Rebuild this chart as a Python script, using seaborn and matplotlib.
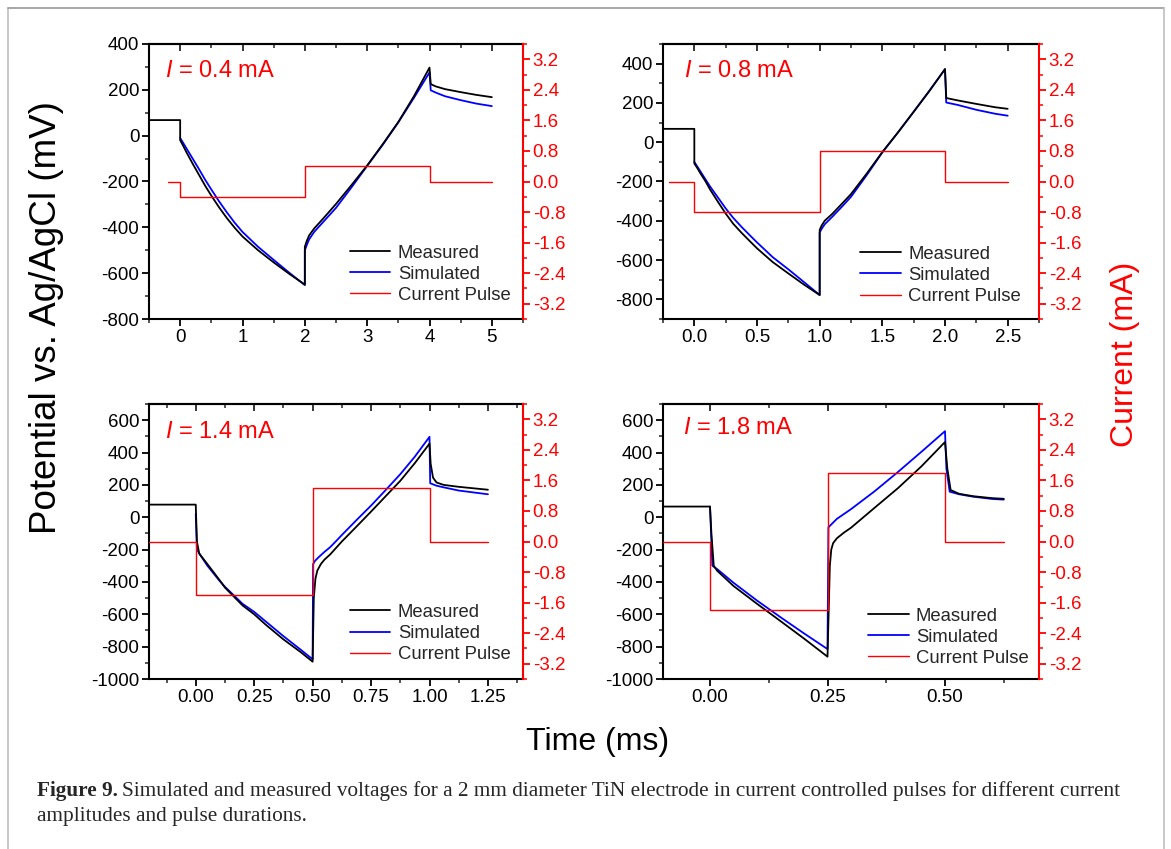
import numpy as np
import matplotlib
matplotlib.use("Agg")
import matplotlib.pyplot as plt
import matplotlib.ticker as mticker
from matplotlib.lines import Line2D
import seaborn as sns

sns.set_theme(style="ticks")
plt.rcParams['font.family'] = ['Liberation Sans', 'DejaVu Sans']
plt.rcParams['axes.unicode_minus'] = False
plt.rcParams['mathtext.fontset'] = 'custom'
plt.rcParams['mathtext.it'] = 'Liberation Sans:italic'
plt.rcParams['mathtext.rm'] = 'Liberation Sans'

# ---- data (time in ms, potential in mV, current in mA) ----
# I = 0.4 mA
t_meas_1 = [-0.5, 0.0, 0.0, 0.05, 0.1, 0.2, 0.3, 0.4, 0.5, 0.625, 0.75, 0.875, 1.0, 1.25, 1.5, 1.75,
            2.0, 2.0, 2.03, 2.07, 2.15, 2.3, 2.5, 2.75, 3.0, 3.25, 3.5, 3.75, 4.0, 4.02, 4.1, 4.25,
            4.5, 4.75, 5.0]
v_meas_1 = [68, 68, -20, -45, -72, -122, -170, -218, -262, -313, -360, -402, -440, -500, -553, -603,
            -650, -485, -460, -435, -405, -360, -298, -215, -130, -37, 60, 172, 297, 225, 215, 203,
            190, 178, 168]
t_sim_1 = [0.0, 0.1, 0.2, 0.3, 0.4, 0.5, 0.625, 0.75, 0.875, 1.0, 1.25, 1.5, 1.75, 2.0, 2.0, 2.03,
           2.07, 2.15, 2.3, 2.5, 2.75, 3.0, 3.25, 3.5, 3.75, 4.0, 4.02, 4.1, 4.25, 4.5, 4.75, 5.0]
v_sim_1 = [-10, -55, -100, -145, -192, -235, -287, -335, -380, -420, -485, -542, -598, -652, -500, -478,
           -452, -420, -375, -315, -225, -132, -40, 58, 165, 276, 198, 188, 172, 155, 140, 129]
t_pulse_1 = [-0.2, 0, 0, 2, 2, 4, 4, 5]
i_pulse_1 = [0, 0, -0.4, -0.4, 0.4, 0.4, 0, 0]

# I = 0.8 mA
t_meas_2 = [-0.25, 0.0, 0.0, 0.025, 0.05, 0.09, 0.125, 0.19, 0.25, 0.31, 0.375, 0.44, 0.5, 0.625, 0.75,
            0.875, 1.0, 1.0, 1.015, 1.04, 1.1, 1.175, 1.25, 1.375, 1.5, 1.625, 1.75, 1.875, 2.0,
            2.01, 2.1, 2.25, 2.4, 2.5]
v_meas_2 = [68, 68, -108, -133, -160, -200, -240, -305, -363, -415, -460, -502, -540, -610, -668,
            -725, -778, -447, -425, -400, -365, -315, -264, -160, -50, 50, 155, 260, 372,
            225, 213, 195, 178, 170]
t_sim_2 = [0.0, 0.05, 0.125, 0.19, 0.25, 0.31, 0.375, 0.44, 0.5, 0.625, 0.75, 0.875, 1.0, 1.0, 1.015,
           1.04, 1.1, 1.175, 1.25, 1.375, 1.5, 1.625, 1.75, 1.875, 2.0, 2.01, 2.1, 2.25, 2.4, 2.5]
v_sim_2 = [-100, -150, -225, -283, -337, -385, -430, -472, -510, -585, -647, -712, -778, -460, -442,
           -418, -380, -330, -278, -168, -52, 50, 155, 262, 372, 202, 190, 165, 145, 135]
t_pulse_2 = [-0.2, 0, 0, 1, 1, 2, 2, 2.5]
i_pulse_2 = [0, 0, -0.8, -0.8, 0.8, 0.8, 0, 0]

# I = 1.4 mA
t_meas_3 = [-0.2, 0.0, 0.005, 0.015, 0.05, 0.1, 0.125, 0.2, 0.25, 0.3, 0.375, 0.45, 0.5, 0.505, 0.512,
            0.52, 0.535, 0.55, 0.575, 0.6, 0.625, 0.6875, 0.75, 0.8125, 0.875, 0.9375, 1.0, 1.005,
            1.015, 1.03, 1.06, 1.125, 1.25]
v_meas_3 = [78, 78, -150, -225, -290, -385, -435, -545, -600, -665, -755, -835, -893, -500, -380,
            -330, -290, -263, -230, -190, -150, -58, 35, 130, 225, 335, 455, 330,
            245, 215, 200, 188, 170]
t_sim_3 = [0.0, 0.005, 0.02, 0.05, 0.1, 0.125, 0.2, 0.25, 0.3, 0.375, 0.45, 0.5, 0.502, 0.51, 0.525,
           0.55, 0.575, 0.6, 0.625, 0.6875, 0.75, 0.8125, 0.875, 0.9375, 1.0, 1.003, 1.03, 1.06,
           1.125, 1.25]
v_sim_3 = [20, -200, -235, -300, -390, -430, -535, -585, -645, -735, -820, -878, -290, -270, -248,
           -215, -185, -148, -110, -18, 72, 168, 266, 375, 497, 210, 195, 185,
           165, 142]
t_pulse_3 = [-0.2, 0, 0, 0.5, 0.5, 1.0, 1.0, 1.25]
i_pulse_3 = [0, 0, -1.4, -1.4, 1.4, 1.4, 0, 0]

# I = 1.8 mA
t_meas_4 = [-0.1, 0.0, 0.003, 0.008, 0.015, 0.05, 0.1, 0.15, 0.2, 0.25, 0.255, 0.258, 0.262, 0.27,
            0.285, 0.3, 0.35, 0.4, 0.45, 0.5, 0.505, 0.512, 0.53, 0.56, 0.6, 0.625]
v_meas_4 = [66, 66, -100, -300, -330, -425, -535, -642, -750, -862, -300, -200, -160, -130,
            -95, -65, 58, 180, 315, 465, 300, 168, 145, 130, 118, 114]
t_sim_4 = [0.0, 0.005, 0.015, 0.05, 0.1, 0.15, 0.2, 0.25, 0.252, 0.27, 0.3, 0.35, 0.4, 0.45, 0.5,
           0.503, 0.51, 0.53, 0.56, 0.6, 0.625]
v_sim_4 = [66, -300, -320, -405, -515, -618, -718, -815, -62, -10, 50, 160, 280, 405, 532,
           300, 158, 142, 127, 113, 109]
t_pulse_4 = [-0.1, 0, 0, 0.25, 0.25, 0.5, 0.5, 0.625]
i_pulse_4 = [0, 0, -1.8, -1.8, 1.8, 1.8, 0, 0]

amp_labels = ['0.4', '0.8', '1.4', '1.8']
current_ticks = [-3.2, -2.4, -1.6, -0.8, 0.0, 0.8, 1.6, 2.4, 3.2]
legend_labels = ['Measured', 'Simulated', 'Current Pulse']

W, H = 1171, 849
fig = plt.figure(figsize=(W / 100, H / 100), dpi=100)


def px_rect(x0, y0, x1, y1):
    return [x0 / W, 1 - y1 / H, (x1 - x0) / W, (y1 - y0) / H]


def draw_panel(rect, amp, t_meas, v_meas, t_sim, v_sim, t_pulse, i_pulse,
               xlim, xmaj, xmin, xfmt, ylim, yticks, leg_xy, lab_xy):
    ax = fig.add_axes(rect)
    ax2 = ax.twinx()

    sns.lineplot(x=t_sim, y=v_sim, ax=ax, color='#0000ff', lw=1.3, estimator=None, sort=False)
    sns.lineplot(x=t_meas, y=v_meas, ax=ax, color='black', lw=1.3, estimator=None, sort=False)
    sns.lineplot(x=t_pulse, y=i_pulse, ax=ax2, color='red', lw=1.0, estimator=None, sort=False)

    ax.set_xlim(xlim)
    ax.set_ylim(ylim)
    ax.set_yticks(yticks)
    ax.xaxis.set_major_locator(mticker.MultipleLocator(xmaj))
    ax.xaxis.set_minor_locator(mticker.MultipleLocator(xmin))
    ax.xaxis.set_major_formatter(mticker.FormatStrFormatter(xfmt))
    ax.yaxis.set_minor_locator(mticker.MultipleLocator(100))
    ax.set_xlabel('')
    ax.set_ylabel('')
    for s in ['left', 'bottom', 'top']:
        ax.spines[s].set_linewidth(1.5)
        ax.spines[s].set_color('black')
    ax.spines['right'].set_visible(False)
    ax.tick_params(which='major', direction='out', length=5, width=1.3, labelsize=13.5,
                   pad=2, colors='black', right=False)
    ax.tick_params(which='minor', direction='out', length=3, width=1.1, right=False)

    # inward ticks along the top edge
    top = ax.secondary_xaxis('top')
    top.xaxis.set_major_locator(mticker.MultipleLocator(xmaj))
    top.xaxis.set_minor_locator(mticker.MultipleLocator(xmin))
    top.tick_params(which='major', direction='in', length=5, width=1.3, labeltop=False)
    top.tick_params(which='minor', direction='in', length=3, width=1.1)
    top.spines['top'].set_linewidth(1.5)

    ax2.set_ylim(-3.6, 3.6)
    ax2.set_yticks(current_ticks)
    ax2.yaxis.set_major_formatter(mticker.FormatStrFormatter('%.1f'))
    ax2.yaxis.set_minor_locator(mticker.MultipleLocator(0.4))
    ax2.set_ylabel('')
    for s in ['left', 'bottom', 'top']:
        ax2.spines[s].set_visible(False)
    ax2.spines['right'].set_color('red')
    ax2.spines['right'].set_linewidth(1.5)
    ax2.tick_params(which='major', direction='out', length=5, width=1.3, labelsize=13.5,
                    pad=2, colors='red')
    ax2.tick_params(which='minor', direction='out', length=3, width=1.1, colors='red')

    ax.text(lab_xy[0], lab_xy[1], r'$\mathit{I}$ = ' + amp + ' mA', transform=ax.transAxes,
            color='red', fontsize=17, ha='left', va='center')

    handles = [Line2D([], [], color='black', lw=1.3),
               Line2D([], [], color='#0000ff', lw=1.3),
               Line2D([], [], color='red', lw=1.0)]
    ax2.legend(handles, legend_labels, loc='lower left', bbox_to_anchor=leg_xy, frameon=False,
               fontsize=13.3, handlelength=2.2, handletextpad=0.4, labelspacing=0.22,
               borderpad=0, borderaxespad=0)
    return ax


draw_panel(px_rect(149, 44, 523, 319), amp_labels[0], t_meas_1, v_meas_1, t_sim_1, v_sim_1,
           t_pulse_1, i_pulse_1, (-0.5, 5.5), 1, 0.5, '%d', (-800, 400),
           [-800, -600, -400, -200, 0, 200, 400], (0.537, 0.055), (0.044, 0.902))
draw_panel(px_rect(663, 44, 1039, 319), amp_labels[1], t_meas_2, v_meas_2, t_sim_2, v_sim_2,
           t_pulse_2, i_pulse_2, (-0.25, 2.75), 0.5, 0.25, '%.1f', (-900, 500),
           [-800, -600, -400, -200, 0, 200, 400], (0.524, 0.051), (0.056, 0.900))
draw_panel(px_rect(149, 404, 523, 679), amp_labels[2], t_meas_3, v_meas_3, t_sim_3, v_sim_3,
           t_pulse_3, i_pulse_3, (-0.2, 1.4), 0.25, 0.125, '%.2f', (-1000, 700),
           [-1000, -800, -600, -400, -200, 0, 200, 400, 600], (0.537, 0.058), (0.044, 0.899))
draw_panel(px_rect(663, 404, 1039, 679), amp_labels[3], t_meas_4, v_meas_4, t_sim_4, v_sim_4,
           t_pulse_4, i_pulse_4, (-0.1, 0.7), 0.25, 0.125, '%.2f', (-1000, 700),
           [-1000, -800, -600, -400, -200, 0, 200, 400, 600], (0.545, 0.044), (0.052, 0.914))

# shared axis titles
fig.text(47 / W, 1 - 318 / H, 'Potential vs. Ag/AgCl (mV)', rotation=90, ha='center',
         va='center', fontsize=26.5, color='black')
fig.text(1125 / W, 1 - 354 / H, 'Current (mA)', rotation=90, ha='center', va='center',
         fontsize=23, color='red')
fig.text(598 / W, 1 - 742 / H, 'Time (ms)', ha='center', va='center', fontsize=23, color='black')

# caption
serif = ['Liberation Serif', 'DejaVu Serif']
cap1 = fig.text(37 / W, 1 - 791 / H, 'Figure 9.', fontsize=15.3, fontweight='bold', family=serif,
                ha='left', va='center')
fig.canvas.draw()
bb = cap1.get_window_extent()
fig.text((bb.x1 + 4) / W, 1 - 791 / H,
         'Simulated and measured voltages for a 2 mm diameter TiN electrode in current controlled '
         'pulses for different current', fontsize=15.3, family=serif, ha='left', va='center')
fig.text(37 / W, 1 - 816 / H, 'amplitudes and pulse durations.', fontsize=15.3, family=serif,
         ha='left', va='center')

# page frame
fig.add_artist(Line2D([8 / W, 8 / W], [0, 1 - 8 / H], transform=fig.transFigure,
                      color='#c4c4c4', lw=1.3))
fig.add_artist(Line2D([8 / W, 1164 / W], [1 - 8 / H, 1 - 8 / H], transform=fig.transFigure,
                      color='#a0a0a0', lw=1.3))
fig.add_artist(Line2D([1164 / W, 1164 / W], [0, 1 - 8 / H], transform=fig.transFigure,
                      color='#c4c4c4', lw=1.3))

fig.savefig('out.png', dpi=100)
